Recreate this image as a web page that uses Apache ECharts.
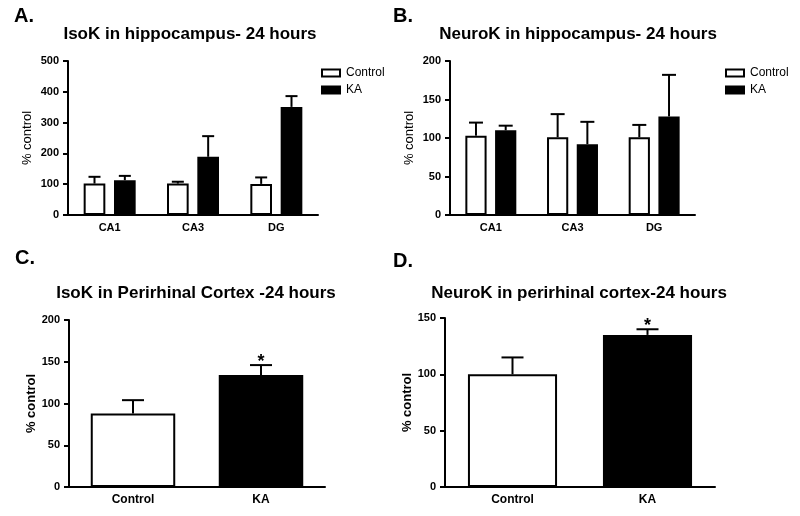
<!DOCTYPE html>
<html>
<head>
<meta charset="utf-8">
<script src="https://cdn.jsdelivr.net/npm/echarts@6/dist/echarts.min.js"></script>
<style>
html,body{margin:0;padding:0;background:#fff;}
#chart{width:800px;height:516px;}
</style>
</head>
<body>
<div id="chart"></div>
<script>
// ---- data ----
const hippoCategories = ['CA1', 'CA3', 'DG'];
const isoHippoControl = [102, 102, 101];
const isoHippoControlUpper = [124, 108, 122];
const isoHippoKA = [113, 189, 351];
const isoHippoKAUpper = [127, 256, 386];

const neuroHippoControl = [103, 101, 101];
const neuroHippoControlUpper = [120, 131, 117];
const neuroHippoKA = [110, 92, 128];
const neuroHippoKAUpper = [116, 121, 182];

const cortexCategories = ['Control', 'KA'];
const isoCortex = [88, 134];
const isoCortexUpper = [104, 146];
const neuroCortex = [100, 135];
const neuroCortexUpper = [115, 140];
const cortexStars = ['', '*'];

const titles = [
  'IsoK in hippocampus- 24 hours',
  'NeuroK in hippocampus- 24 hours',
  'IsoK in Perirhinal Cortex -24 hours',
  'NeuroK in perirhinal cortex-24 hours'
];
const panelLetters = ['A.', 'B.', 'C.', 'D.'];
const yMax = [500, 200, 200, 150];
const yInterval = [100, 50, 50, 50];

// ---- chart ----
const FONT = '"Liberation Sans", Arial, sans-serif';
const chart = echarts.init(document.getElementById('chart'), null, {renderer: 'canvas'});

const grids = [
  {left: 68, top: 61, width: 250, height: 154},
  {left: 450, top: 61, width: 245, height: 154},
  {left: 69, top: 320, width: 256, height: 167},
  {left: 445, top: 318, width: 270, height: 169}
];

function xAxisCfg(gi, cats) {
  return {
    type: 'category', gridIndex: gi, data: cats,
    axisLine: {lineStyle: {color: '#000', width: 2}},
    axisTick: {alignWithLabel: true, length: 4, lineStyle: {color: '#000', width: 2}},
    axisLabel: {color: '#000', fontFamily: FONT, fontWeight: 'bold', fontSize: gi < 2 ? 11 : 12, margin: 7}
  };
}
function yAxisCfg(gi) {
  return {
    type: 'value', gridIndex: gi, min: 0, max: yMax[gi], interval: yInterval[gi],
    name: '% control', nameLocation: 'middle', nameRotate: 90, nameGap: gi < 2 ? 34 : 31,
    nameTextStyle: {color: '#000', fontFamily: FONT, fontSize: 13, fontWeight: gi < 2 ? 'normal' : 'bold'},
    axisLine: {show: true, lineStyle: {color: '#000', width: 2}},
    axisTick: {show: true, length: 5, lineStyle: {color: '#000', width: 2}},
    axisLabel: {color: '#000', fontFamily: FONT, fontWeight: 'bold', fontSize: 11, margin: 9},
    splitLine: {show: false}
  };
}

const controlStyle = {color: '#fff', borderColor: '#000', borderWidth: 2};
const kaStyle = {color: '#000', borderColor: '#000', borderWidth: 2};

const GROUP_W = 0.26, GROUP_GAP = 0.4;
const groupOff = (GROUP_W + GROUP_W * GROUP_GAP) / 2;

function errSeries(gi, means, uppers, offFrac, capHalf, stars) {
  return {
    type: 'custom', xAxisIndex: gi, yAxisIndex: gi, z: 5, silent: true,
    encode: {x: 0, y: [1, 2]},
    data: means.map((m, i) => [i, m, uppers[i]]),
    renderItem: function (params, api) {
      const i = api.value(0);
      const p0 = api.coord([i, api.value(1)]);
      const p1 = api.coord([i, api.value(2)]);
      const band = api.size([1, 0])[0];
      const x = p0[0] + offFrac * band;
      const children = [
        {type: 'line', shape: {x1: x, y1: p0[1], x2: x, y2: p1[1]}, style: {stroke: '#000', lineWidth: 2}},
        {type: 'line', shape: {x1: x - capHalf, y1: p1[1], x2: x + capHalf, y2: p1[1]}, style: {stroke: '#000', lineWidth: 2}}
      ];
      if (stars && stars[params.dataIndex]) {
        children.push({type: 'text', x: x, y: p1[1] - 3,
          style: {text: stars[params.dataIndex], fill: '#000', font: 'bold 18px ' + FONT, align: 'center', verticalAlign: 'middle'}});
      }
      return {type: 'group', children: children};
    }
  };
}

const series = [
  // A
  {name: 'Control', type: 'bar', xAxisIndex: 0, yAxisIndex: 0, data: isoHippoControl, barWidth: (GROUP_W * 100) + '%', barGap: (GROUP_GAP * 100) + '%', itemStyle: controlStyle},
  {name: 'KA', type: 'bar', xAxisIndex: 0, yAxisIndex: 0, data: isoHippoKA, barWidth: (GROUP_W * 100) + '%', barGap: (GROUP_GAP * 100) + '%', itemStyle: kaStyle},
  errSeries(0, isoHippoControl, isoHippoControlUpper, -groupOff, 6),
  errSeries(0, isoHippoKA, isoHippoKAUpper, groupOff, 6),
  // B
  {name: 'Control', type: 'bar', xAxisIndex: 1, yAxisIndex: 1, data: neuroHippoControl, barWidth: (GROUP_W * 100) + '%', barGap: (GROUP_GAP * 100) + '%', itemStyle: controlStyle},
  {name: 'KA', type: 'bar', xAxisIndex: 1, yAxisIndex: 1, data: neuroHippoKA, barWidth: (GROUP_W * 100) + '%', barGap: (GROUP_GAP * 100) + '%', itemStyle: kaStyle},
  errSeries(1, neuroHippoControl, neuroHippoControlUpper, -groupOff, 7),
  errSeries(1, neuroHippoKA, neuroHippoKAUpper, groupOff, 7),
  // C
  {name: 'IsoK cortex', type: 'bar', xAxisIndex: 2, yAxisIndex: 2, barWidth: '66%',
    data: isoCortex.map((v, i) => ({value: v, itemStyle: i === 0 ? controlStyle : kaStyle}))},
  errSeries(2, isoCortex, isoCortexUpper, 0, 11, cortexStars),
  // D
  {name: 'NeuroK cortex', type: 'bar', xAxisIndex: 3, yAxisIndex: 3, barWidth: '66%',
    data: neuroCortex.map((v, i) => ({value: v, itemStyle: i === 0 ? controlStyle : kaStyle}))},
  errSeries(3, neuroCortex, neuroCortexUpper, 0, 11, cortexStars)
];

const titlePos = [[190, 34], [578, 34], [196, 293], [579, 293]];
const letterPos = [[14, 16], [393, 16], [15, 258], [393, 261]];
const graphic = [];
titles.forEach((t, i) => graphic.push({type: 'text', x: titlePos[i][0], y: titlePos[i][1],
  style: {text: t, fill: '#000', font: 'bold 17px ' + FONT, align: 'center', verticalAlign: 'middle'}}));
panelLetters.forEach((t, i) => graphic.push({type: 'text', x: letterPos[i][0], y: letterPos[i][1],
  style: {text: t, fill: '#000', font: 'bold 20px ' + FONT, align: 'left', verticalAlign: 'middle'}}));

const legendCfg = (left) => ({
  data: ['Control', 'KA'], orient: 'vertical', left: left, top: 62,
  icon: 'rect', itemWidth: 18, itemHeight: 7, itemGap: 5, selectedMode: false,
  textStyle: {color: '#000', fontFamily: FONT, fontSize: 12, padding: [0, 0, 0, 1]}
});

chart.setOption({
  animation: false,
  backgroundColor: '#fff',
  grid: grids,
  xAxis: [xAxisCfg(0, hippoCategories), xAxisCfg(1, hippoCategories), xAxisCfg(2, cortexCategories), xAxisCfg(3, cortexCategories)],
  yAxis: [yAxisCfg(0), yAxisCfg(1), yAxisCfg(2), yAxisCfg(3)],
  legend: [legendCfg(316), legendCfg(720)],
  graphic: graphic,
  series: series
});
</script>
</body>
</html>
